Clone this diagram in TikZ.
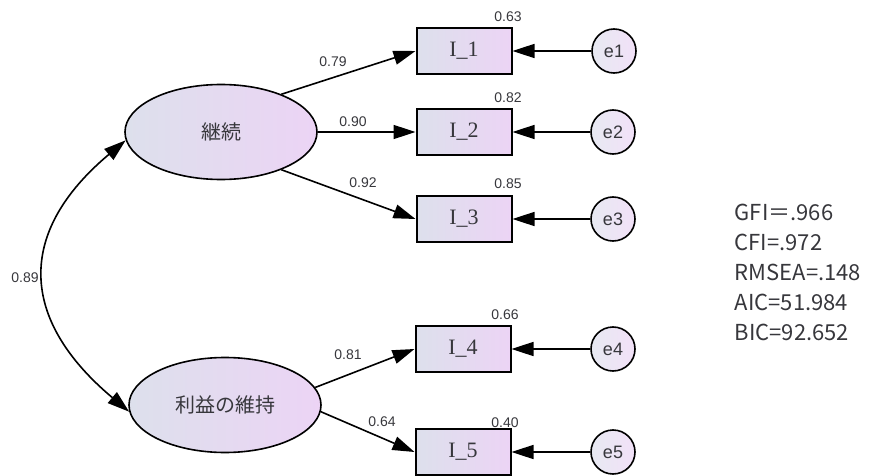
\documentclass[tikz,border=0pt]{standalone}
\usepackage{fontspec}
\setmainfont{Liberation Serif}
\newfontfamily\jp{Noto Sans CJK JP}
\newfontfamily\num{Liberation Sans}
\usetikzlibrary{arrows.meta,shapes.geometric,positioning}
\definecolor{shadeL}{RGB}{221,224,236}
\definecolor{shadeR}{RGB}{236,212,245}
\definecolor{ink}{RGB}{55,55,60}

\begin{document}
\begin{tikzpicture}[x=1pt,y=1pt,->,>={Triangle[length=22pt,width=14pt]},line width=1.6pt,
    latent/.style={ellipse,draw,minimum width=192pt,minimum height=95pt,inner sep=0pt,
      left color=shadeL,right color=shadeR,text=ink,font=\jp\fontsize{20}{20}\selectfont},
    obs/.style={rectangle,draw,line width=2pt,minimum width=95pt,minimum height=46pt,
      left color=shadeL,right color=shadeR,text=ink,font=\fontsize{22}{22}\selectfont},
    err/.style={circle,draw,minimum size=44pt,inner sep=0pt,
      left color=shadeL!70!white,right color=shadeR!70!white,text=ink,font=\num\fontsize{18}{18}\selectfont},
    lbl/.style={inner sep=0pt,text=ink,font=\num\fontsize{14}{14}\selectfont}]
  \useasboundingbox (0,0) rectangle (876,475);

  % factors
  \node[latent] (k) at (221,343) {継続};
  \node[latent] (r) at (225,70) {利益の維持};

  % items
  \node[obs] (i1) at (464,424) {I\_1};
  \node[obs] (i2) at (464,343) {I\_2};
  \node[obs] (i3) at (464,256) {I\_3};
  \node[obs] (i4) at (463,126) {I\_4};
  \node[obs] (i5) at (463,23) {I\_5};

  % errors
  \node[err] (e1) at (614,424) {e1};
  \node[err] (e2) at (613,343) {e2};
  \node[err] (e3) at (613,256) {e3};
  \node[err] (e4) at (613,126) {e4};
  \node[err] (e5) at (613,23) {e5};

  \path
  (k.32) edge (i1.west)
  (k.east) edge (i2.west)
  (k.-32) edge (i3.west)
  (r.11) edge (i4.west)
  (r.-4) edge (i5.west)
  (e1) edge (i1)
  (e2) edge (i2)
  (e3) edge (i3)
  (e4) edge (i4)
  (e5) edge (i5)
  (k.185) edge[<->,out=220,in=140,looseness=1.35] (r.184);

  % loadings and R2
  \node[lbl] (l1) at (333,413) {0.79};
  \node[lbl] (l2) at (353,353) {0.90};
  \node[lbl] (l3) at (363,292) {0.92};
  \node[lbl] (l4) at (348,120) {0.81};
  \node[lbl] (l5) at (382,53) {0.64};
  \node[lbl] (c) at (25,197) {0.89};
  \node[lbl] (r1) at (508,458) {0.63};
  \node[lbl] (r2) at (508,377) {0.82};
  \node[lbl] (r3) at (508,291) {0.85};
  \node[lbl] (r4) at (505,160) {0.66};
  \node[lbl] (r5) at (505,52) {0.40};

  % fit
  \node[anchor=west,align=left,inner sep=0pt,text=ink,font=\jp\fontsize{22}{30}\selectfont] (fit) at (734,203)
    {GFI＝.966\\CFI=.972\\RMSEA=.148\\AIC=51.984\\BIC=92.652};
\end{tikzpicture}
\end{document}
